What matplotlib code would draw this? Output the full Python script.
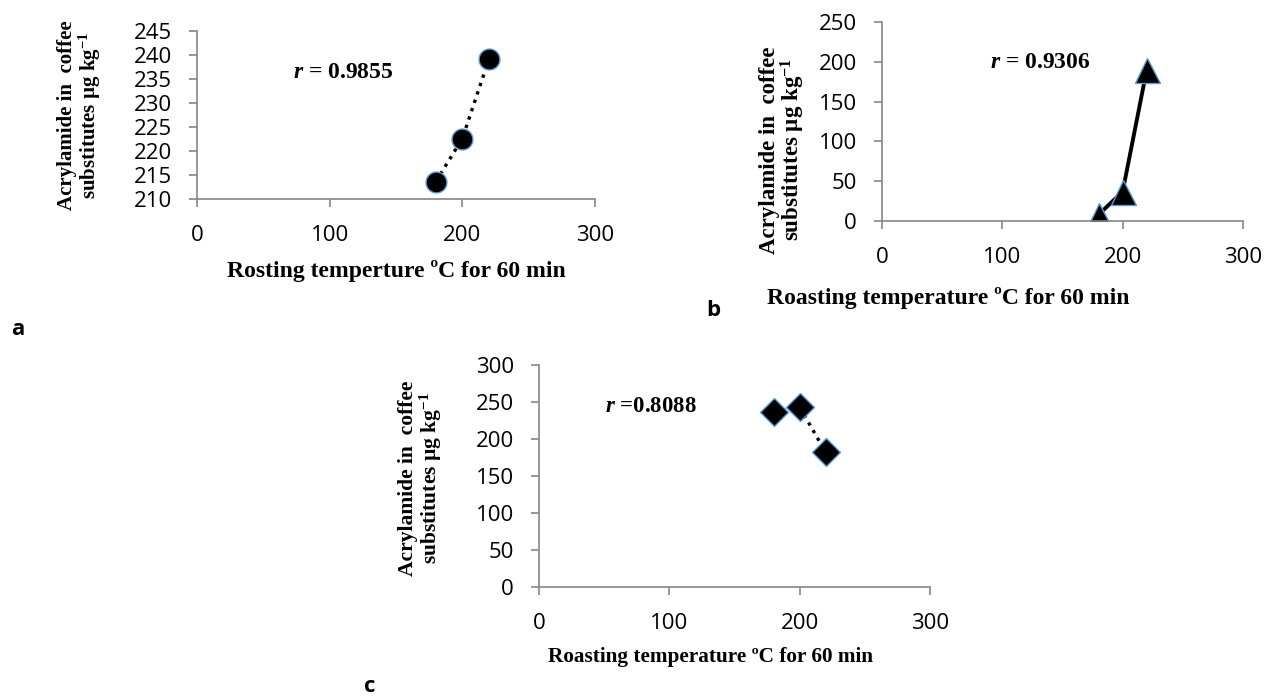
import matplotlib
matplotlib.use("Agg")
from matplotlib import pyplot as plt

# data
temp = [180, 200, 220]
acr_a = [213.6, 222.6, 239.1]
acr_b = [8, 37, 190]
acr_c = [237, 243, 182]

xticks = [0, 100, 200, 300]
yticks_a = [210, 215, 220, 225, 230, 235, 240, 245]
yticks_b = [0, 50, 100, 150, 200, 250]
yticks_c = [0, 50, 100, 150, 200, 250, 300]

plt.rcParams['mathtext.fontset'] = 'custom'
plt.rcParams['mathtext.rm'] = 'Liberation Serif:bold'
plt.rcParams['mathtext.it'] = 'Liberation Serif:bold:italic'
plt.rcParams['mathtext.bf'] = 'Liberation Serif:bold'

W, H = 1267, 698
fig = plt.figure(figsize=(W / 100, H / 100), dpi=100)

GRAY = '#868686'
EDGE = '#5B9BD5'
SERIF = ['Liberation Serif', 'DejaVu Serif']
SANS = 'Open Sans'


def px_axes(l, r, t, b):
    return fig.add_axes([l / W, 1 - b / H, (r - l) / W, (b - t) / H])


def style(ax, yticks):
    ax.set_xlim(0, 300)
    ax.set_ylim(yticks[0], yticks[-1])
    ax.set_xticks(xticks)
    ax.set_yticks(yticks)
    for s in ['top', 'right']:
        ax.spines[s].set_visible(False)
    for s in ['left', 'bottom']:
        ax.spines[s].set_color(GRAY)
        ax.spines[s].set_linewidth(1.2)
    ax.tick_params(axis='both', colors=GRAY, length=6, width=1.2,
                   labelcolor='black', labelsize=16)
    ax.tick_params(axis='y', pad=12)
    ax.tick_params(axis='x', pad=13)
    for lab in ax.get_xticklabels() + ax.get_yticklabels():
        lab.set_fontfamily(SANS)


def fig_text(x, y, s, **kw):
    fig.text(x / W, 1 - y / H, s, **kw)


def ylab(x, y, size):
    fig_text(x, y, 'Acrylamide in  coffee\nsubstitutes µg kg$^{\\mathregular{-1}}$',
             rotation=90, ha='center', va='center', family=SERIF,
             fontweight='bold', fontsize=size, linespacing=0.95,
             multialignment='center')


# panel a
ax1 = px_axes(197, 595, 31, 199)
style(ax1, yticks_a)
ax1.plot(temp, acr_a, ls=':', lw=2.4, color='black',
         marker='o', ms=15, mfc='black', mec=EDGE, mew=1)
fig_text(293, 72, '$r$ = 0.9855', ha='left', va='center', family=SERIF,
         fontweight='bold', fontsize=17)
fig_text(396, 271, 'Rosting temperture ºC for 60 min', ha='center', va='center',
         family=SERIF, fontweight='bold', fontsize=17)
ylab(80, 115, 15)
fig_text(18, 330, 'a', ha='center', va='center', family=SANS,
         fontweight='bold', fontsize=16)

# panel b
ax2 = px_axes(882, 1243, 22, 221)
style(ax2, yticks_b)
ax2.plot(temp, acr_b, ls='-', lw=2.8, color='black',
         marker='^', ms=18, mfc='black', mec=EDGE, mew=1)
fig_text(990, 62, '$r$ = 0.9306', ha='left', va='center', family=SERIF,
         fontweight='bold', fontsize=17)
fig_text(948, 298, 'Roasting temperature ºC for 60 min', ha='center', va='center',
         family=SERIF, fontweight='bold', fontsize=17)
ylab(783, 150, 16.5)
fig_text(713, 311, 'b', ha='center', va='center', family=SANS,
         fontweight='bold', fontsize=16)

# panel c
ax3 = px_axes(539, 930, 365, 587)
style(ax3, yticks_c)
ax3.plot(temp, acr_c, ls=':', lw=2.4, color='black',
         marker='D', ms=14, mfc='black', mec=EDGE, mew=1)
fig_text(605, 407, '$r$ =0.8088', ha='left', va='center', family=SERIF,
         fontweight='bold', fontsize=16.5)
fig_text(710, 657, 'Roasting temperature ºC for 60 min', ha='center', va='center',
         family=SERIF, fontweight='bold', fontsize=15.3)
ylab(421, 478, 15.5)
fig_text(370, 686, 'c', ha='center', va='center', family=SANS,
         fontweight='bold', fontsize=16)

fig.savefig('out.png', dpi=100)
